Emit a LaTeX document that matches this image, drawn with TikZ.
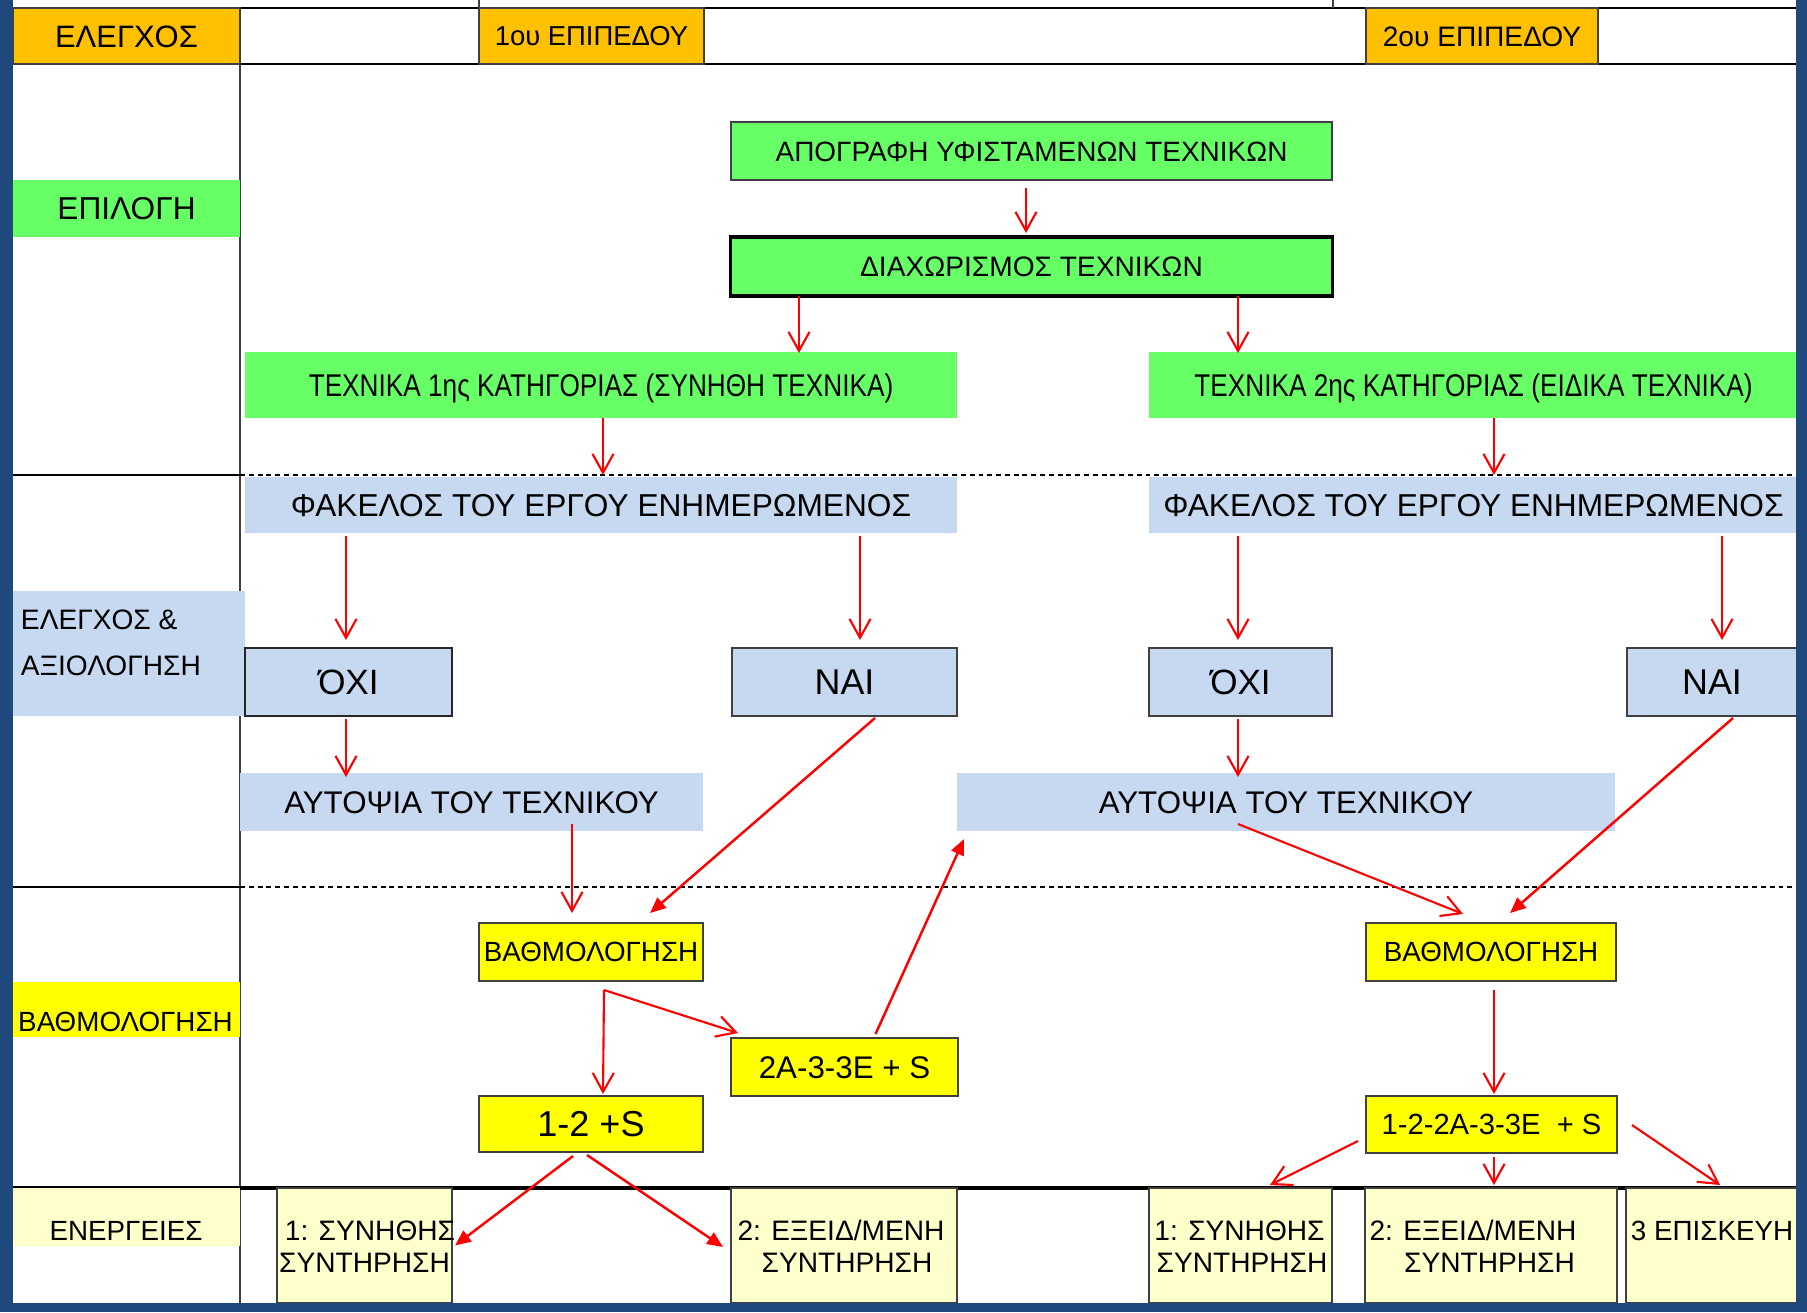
\documentclass[tikz,border=0pt]{standalone}
\usepackage{fontspec}
\usepackage{graphicx}
\setmainfont{Liberation Sans}
\usetikzlibrary{arrows.meta,calc}
\definecolor{frameblue}{HTML}{1F497D}
\definecolor{hdrorange}{HTML}{FFC000}
\definecolor{selgreen}{HTML}{66FF66}
\definecolor{ctlblue}{HTML}{C6D9F1}
\definecolor{grdyellow}{HTML}{FFFF00}
\definecolor{actyellow}{HTML}{FFFFCC}
\definecolor{gridgray}{HTML}{404040}
\newcommand\fsz[1]{\fontsize{#1}{#1}\selectfont}
\newcommand\cc[1]{\rule{0pt}{0.716em}\smash{#1}}
\newcommand\ccs[1]{\rule{0pt}{0.716em}\smash{\raisebox{-0.0716em}{\scalebox{1}[1.2]{#1}}}}
\begin{document}
\begin{tikzpicture}[x=0.01cm,y=-0.01cm,
  box/.style={rectangle, inner sep=0pt, outer sep=0pt},
  txt/.style={inner sep=0pt, outer sep=0pt},
  hdr/.style={box, fill=hdrorange, draw=gridgray, line width=0.4pt, minimum height=0.56cm},
  ybox/.style={box, fill=grdyellow, draw=gridgray, line width=0.45pt},
  abox/.style={box, fill=actyellow, draw=gridgray, line width=0.45pt, minimum height=1.15cm},
  arr/.style={draw=red, line width=0.6pt, -{Straight Barb[length=5.4pt,width=6pt]}},
  arrf/.style={draw=red, line width=0.7pt, -{Triangle[length=4.5pt,width=3.8pt]}},
  solidrule/.style={black, line width=0.45pt},
  dashrule/.style={black, line width=0.45pt, dash pattern=on 1.4pt off 1.1pt}]
\useasboundingbox (0,0) rectangle (1807,1312);
\fill[white] (0,0) rectangle (1807,1312);
% grid
\draw[black, line width=0.6pt] (13,8) -- (1796,8);
\draw[gridgray, line width=0.4pt] (479,0) -- (479,8);
\draw[gridgray, line width=0.4pt] (1333,0) -- (1333,8);
\draw[black, line width=0.55pt] (13,64) -- (1796,64);
\draw[gridgray, line width=0.5pt] (240,8) -- (240,1303);
\draw[solidrule] (13,475) -- (240,475);
\draw[dashrule] (240,475) -- (1796,475);
\draw[solidrule] (13,887) -- (240,887);
\draw[dashrule] (240,887) -- (1796,887);
\draw[black, line width=0.9pt] (13,1188) -- (1796,1188);
% header
\node[hdr, minimum width=2.27cm, font=\fsz{8.8}] (hE) at (126.5,36) {\cc{ΕΛΕΓΧΟΣ}};
\node[hdr, minimum width=2.25cm, font=\fsz{7.8}] (h1) at (591.5,36) {\cc{1ου ΕΠΙΠΕΔΟΥ}};
\node[hdr, minimum width=2.32cm, font=\fsz{8}] (h2) at (1482,36) {\cc{2ου ΕΠΙΠΕΔΟΥ}};
% row labels
\node[box, fill=selgreen, minimum width=2.27cm, minimum height=0.57cm, font=\fsz{9}] (lsel) at (126.5,208.5) {\cc{ΕΠΙΛΟΓΗ}};
\node[box, fill=ctlblue, minimum width=2.32cm, minimum height=1.25cm] (lctl) at (129,653.5) {};
\node[txt, anchor=west, font=\fsz{8}] (lctl1) at (21,619.5) {\cc{ΕΛΕΓΧΟΣ \&}};
\node[txt, anchor=west, font=\fsz{8}] (lctl2) at (21,665) {\cc{ΑΞΙΟΛΟΓΗΣΗ}};
\node[box, fill=grdyellow, minimum width=2.27cm, minimum height=0.55cm] (lgrd) at (126.5,1009.5) {};
\node[txt, font=\fsz{7.9}] (lgrdt) at (125.5,1022) {\cc{ΒΑΘΜΟΛΟΓΗΣΗ}};
\node[box, fill=actyellow, minimum width=2.27cm, minimum height=0.58cm] (lact) at (126.5,1217) {};
\node[txt, font=\fsz{7.9}] (lactt) at (126,1230.5) {\cc{ΕΝΕΡΓΕΙΕΣ}};
% selection
\node[box, fill=selgreen, draw=gridgray, line width=0.5pt, minimum width=6.01cm, minimum height=0.58cm, font=\fsz{7.95}] (apog) at (1031.5,151) {\cc{ΑΠΟΓΡΑΦΗ ΥΦΙΣΤΑΜΕΝΩΝ ΤΕΧΝΙΚΩΝ}};
\node[box, fill=selgreen, draw=black, line width=0.9pt, minimum width=6.01cm, minimum height=0.59cm, font=\fsz{8}] (diax) at (1031.5,266.5) {\cc{ΔΙΑΧΩΡΙΣΜΟΣ ΤΕΧΝΙΚΩΝ}};
\node[box, fill=selgreen, minimum width=7.12cm, minimum height=0.66cm, font=\fsz{7.45}] (tex1) at (601,385) {\ccs{ΤΕΧΝΙΚΑ 1ης ΚΑΤΗΓΟΡΙΑΣ (ΣΥΝΗΘΗ ΤΕΧΝΙΚΑ)}};
\node[box, fill=selgreen, minimum width=6.49cm, minimum height=0.66cm, font=\fsz{7.45}] (tex2) at (1473.5,385) {\ccs{ΤΕΧΝΙΚΑ 2ης ΚΑΤΗΓΟΡΙΑΣ (ΕΙΔΙΚΑ ΤΕΧΝΙΚΑ)}};
% control
\node[box, fill=ctlblue, minimum width=7.12cm, minimum height=0.56cm, font=\fsz{9}] (fak1) at (601,505) {\cc{ΦΑΚΕΛΟΣ ΤΟΥ ΕΡΓΟΥ ΕΝΗΜΕΡΩΜΕΝΟΣ}};
\node[box, fill=ctlblue, minimum width=6.49cm, minimum height=0.56cm, font=\fsz{9}] (fak2) at (1473.5,505) {\cc{ΦΑΚΕΛΟΣ ΤΟΥ ΕΡΓΟΥ ΕΝΗΜΕΡΩΜΕΝΟΣ}};
\node[box, fill=ctlblue, draw=black!85, line width=0.55pt, minimum width=2.07cm, minimum height=0.68cm, font=\fsz{10}] (oxi1) at (348.5,682) {\cc{ΌΧΙ}};
\node[box, fill=ctlblue, draw=gridgray, line width=0.45pt, minimum width=2.25cm, minimum height=0.68cm, font=\fsz{10.2}] (nai1) at (844.5,682) {\cc{ΝΑΙ}};
\node[box, fill=ctlblue, draw=gridgray, line width=0.45pt, minimum width=1.83cm, minimum height=0.68cm, font=\fsz{10}] (oxi2) at (1240.5,682) {\cc{ΌΧΙ}};
\node[box, fill=ctlblue, draw=gridgray, line width=0.45pt, minimum width=1.70cm, minimum height=0.68cm, font=\fsz{10.2}] (nai2) at (1712,682) {\cc{ΝΑΙ}};
\node[box, fill=ctlblue, minimum width=4.63cm, minimum height=0.58cm, font=\fsz{8.9}] (aut1) at (471.5,802) {\cc{ΑΥΤΟΨΙΑ ΤΟΥ ΤΕΧΝΙΚΟΥ}};
\node[box, fill=ctlblue, minimum width=6.58cm, minimum height=0.58cm, font=\fsz{8.9}] (aut2) at (1286,802) {\cc{ΑΥΤΟΨΙΑ ΤΟΥ ΤΕΧΝΙΚΟΥ}};
% grading
\node[ybox, minimum width=2.24cm, minimum height=0.58cm, font=\fsz{7.9}] (bath1) at (591,952) {\cc{ΒΑΘΜΟΛΟΓΗΣΗ}};
\node[ybox, minimum width=2.50cm, minimum height=0.58cm, font=\fsz{7.9}] (bath2) at (1491,952) {\cc{ΒΑΘΜΟΛΟΓΗΣΗ}};
\node[ybox, minimum width=2.27cm, minimum height=0.58cm, font=\fsz{8.9}] (s23) at (844.5,1067) {\cc{2A-3-3E + S}};
\node[ybox, minimum width=2.24cm, minimum height=0.56cm, font=\fsz{10.25}] (s12) at (591,1124) {\cc{1-2 +S}};
\node[ybox, minimum width=2.51cm, minimum height=0.57cm, font=\fsz{8.3}] (s1223) at (1491.5,1124.5) {\cc{1-2-2A-3-3E\ \ + S}};
% actions
\node[abox, minimum width=1.75cm] (e1a) at (364.5,1245.5) {};
\node[txt, font=\fsz{8}] (e1at) at ($(e1a)+(5.5,-15)$) {\cc{1: ΣΥΝΗΘΗΣ}};
\node[txt, font=\fsz{8}] (e1ab) at ($(e1a)+(0,16.5)$) {\cc{ΣΥΝΤΗΡΗΣΗ}};
\node[abox, minimum width=2.26cm] (e2a) at (844,1245.5) {};
\node[txt, font=\fsz{8}] (e2at) at ($(e2a)+(-3,-15)$) {\cc{2: ΕΞΕΙΔ/ΜΕΝΗ}};
\node[txt, font=\fsz{8}] (e2ab) at ($(e2a)+(3,16.5)$) {\cc{ΣΥΝΤΗΡΗΣΗ}};
\node[abox, minimum width=1.83cm] (e1b) at (1240.5,1245.5) {};
\node[txt, font=\fsz{8}] (e1bt) at ($(e1b)+(-1,-15)$) {\cc{1: ΣΥΝΗΘΗΣ}};
\node[txt, font=\fsz{8}] (e1bb) at ($(e1b)+(1.5,16.5)$) {\cc{ΣΥΝΤΗΡΗΣΗ}};
\node[abox, minimum width=2.52cm] (e2b) at (1491,1245.5) {};
\node[txt, font=\fsz{8}] (e2bt) at ($(e2b)+(-18,-15)$) {\cc{2: ΕΞΕΙΔ/ΜΕΝΗ}};
\node[txt, font=\fsz{8}] (e2bb) at ($(e2b)+(-1.5,16.5)$) {\cc{ΣΥΝΤΗΡΗΣΗ}};
\node[abox, minimum width=1.72cm] (e3b) at (1712,1245.5) {};
\node[txt, font=\fsz{7.9}] (e3bt) at ($(e3b)+(0,-15)$) {\cc{3 ΕΠΙΣΚΕΥΗ}};
% arrows
\draw[arr] ($(apog)+(-5.5,37)$) -- ($(diax)+(-5.5,-33.5)$);
\draw[arr] ($(diax)+(-232.5,29.5)$) -- ($(tex1)+(198,-32)$);
\draw[arr] ($(diax)+(206.5,29.5)$) -- ($(tex2)+(-235.5,-32)$);
\draw[arr] ($(tex1)+(2,33)$) -- ($(fak1)+(2,-30)$);
\draw[arr] ($(tex2)+(20.5,33)$) -- ($(fak2)+(20.5,-30)$);
\draw[arr] ($(fak1)+(-255,31)$) -- ($(oxi1)+(-2.5,-42)$);
\draw[arr] ($(fak1)+(259,31)$) -- ($(nai1)+(15.5,-42)$);
\draw[arr] ($(fak2)+(-235.5,31)$) -- ($(oxi2)+(-2.5,-42)$);
\draw[arr] ($(fak2)+(248.5,31)$) -- ($(nai2)+(10,-42)$);
\draw[arr] ($(oxi1)+(-2.5,37)$) -- ($(aut1)+(-125.5,-25)$);
\draw[arr] ($(oxi2)+(-2.5,37)$) -- ($(aut2)+(-48,-25)$);
\draw[arr] ($(aut1)+(100.5,22)$) -- ($(bath1)+(-19,-39)$);
\draw[arrf] ($(nai1)+(30.5,36)$) -- ($(bath1)+(59,-39)$);
\draw[arr] ($(aut2)+(-48,22)$) -- ($(bath2)+(-28,-38)$);
\draw[arrf] ($(nai2)+(21,36)$) -- ($(bath2)+(19,-39)$);
\draw[arr] ($(bath1)+(13,38)$) -- ($(s12)+(12,-30)$);
\draw[arr] ($(bath1)+(13,38)$) -- ($(s23)+(-106.5,-34)$);
\draw[arrf] ($(s23)+(31,-33)$) -- ($(aut2)+(-322,37)$);
\draw[arr] ($(bath2)+(3,38)$) -- ($(s1223)+(2.5,-30.5)$);
\draw[arr] ($(s1223)+(-133.5,16.5)$) -- ($(e1b)+(29.5,-60.5)$);
\draw[arr] ($(s1223)+(2.5,32.5)$) -- ($(e2b)+(3,-60.5)$);
\draw[arr] ($(s1223)+(140.5,0.5)$) -- ($(e3b)+(8,-60.5)$);
\draw[arrf] ($(s12)+(-18,32)$) -- ($(e1a)+(90.5,0)$);
\draw[arrf] ($(s12)+(-4,31)$) -- ($(e2a)+(-121,1.5)$);
% frame
\fill[frameblue] (0,0) rectangle (13,1312);
\fill[frameblue] (1796,0) rectangle (1807,1312);
\fill[frameblue] (0,1303) rectangle (1807,1312);
\end{tikzpicture}
\end{document}
